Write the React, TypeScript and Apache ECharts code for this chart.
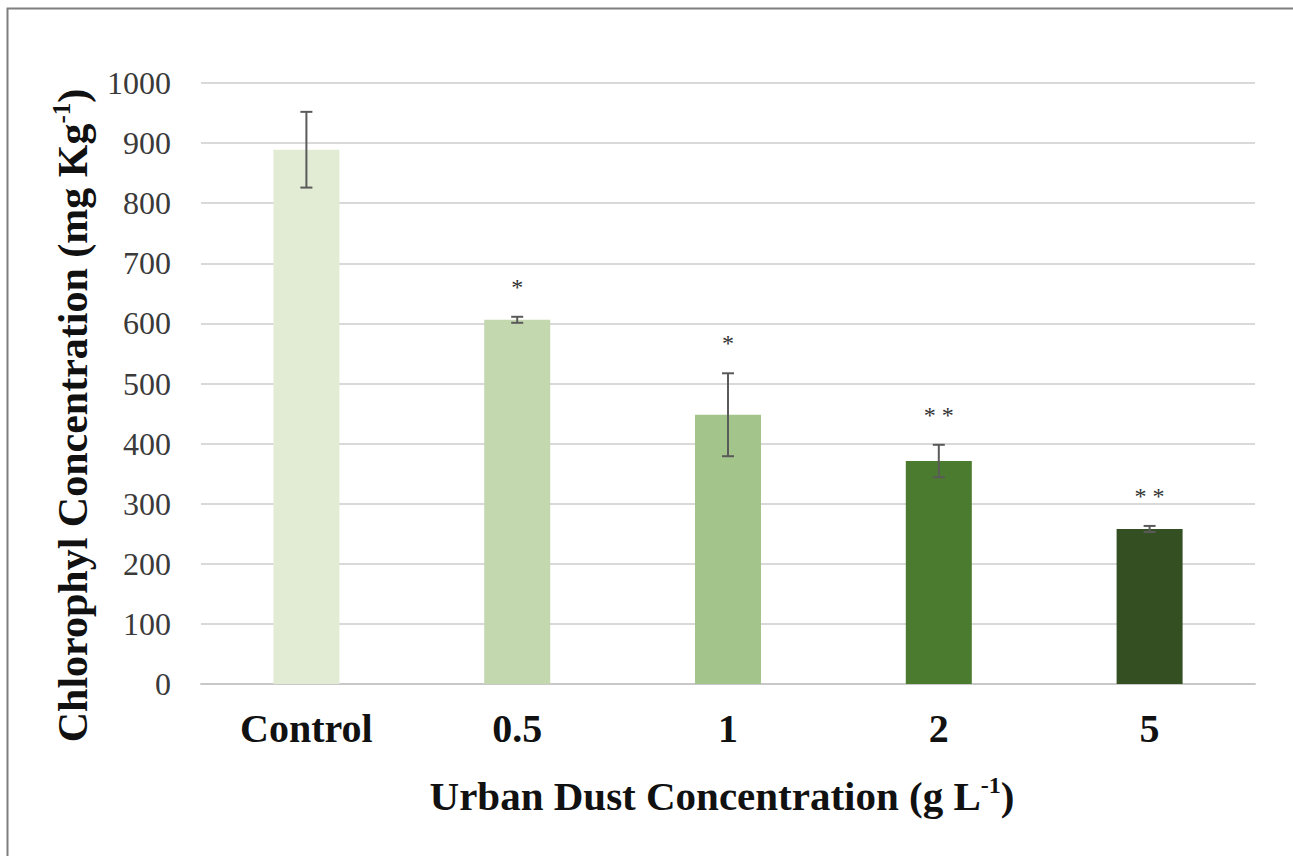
import React, { useEffect, useRef } from "react";
import * as echarts from "echarts";

const categories = ["Control", "0.5", "1", "2", "5"];
const means = [889, 606, 448, 371, 258];
const errors = [63, 5, 69, 27, 5];
const stars = ["", "*", "*", "**", "**"];
const barColors = ["#e2ebd4", "#c4d8b0", "#a3c48b", "#4b7b2f", "#344f22"];
const yTicks = { min: 0, max: 1000, interval: 100 };

export default function App() {
  const ref = useRef<HTMLDivElement>(null);
  useEffect(() => {
    if (!ref.current) return;
    const chart = echarts.init(ref.current, null, { renderer: "svg" });
    const serif = "Liberation Serif, DejaVu Serif, serif";
    chart.setOption({
      animation: false,
      backgroundColor: "#ffffff",
      grid: { left: 201, right: 38, top: 83, bottom: 172 },
      graphic: [
        {
          type: "polyline",
          silent: true,
          shape: { points: [[7.5, 900], [7.5, 8.5], [1400, 8.5]] },
          style: { stroke: "#7f7f7f", lineWidth: 2, fill: "none" },
        },
      ],
      xAxis: {
        type: "category",
        data: categories,
        axisTick: { show: false },
        axisLine: { lineStyle: { color: "#c8c8c8", width: 2 } },
        axisLabel: {
          margin: 24,
          fontFamily: serif,
          fontWeight: "bold",
          fontSize: 40,
          color: "#111111",
        },
        name: "{a|Urban Dust Concentration (g L}{b|-1}{a|)}{s| }",
        nameLocation: "middle",
        nameGap: 89,
        nameTextStyle: {
          rich: {
            a: { fontFamily: serif, fontWeight: "bold", fontSize: 41, color: "#111111", lineHeight: 46 },
            b: { fontFamily: serif, fontWeight: "bold", fontSize: 24, color: "#111111", verticalAlign: "top", lineHeight: 46 },
            s: { width: 12, fontSize: 41, lineHeight: 46 },
          },
        },
      },
      yAxis: {
        type: "value",
        min: yTicks.min,
        max: yTicks.max,
        interval: yTicks.interval,
        axisLine: { show: false },
        axisTick: { show: false },
        splitLine: { lineStyle: { color: "#d9d9d9", width: 2 } },
        axisLabel: {
          margin: 30,
          fontFamily: serif,
          fontSize: 32,
          color: "#3a3a3a",
          formatter: (v: number) => String(v),
        },
        name: "{a|Chlorophyl Concentration (mg Kg}{b|-1}{a|)}{s| }",
        nameLocation: "middle",
        nameGap: 104,
        nameTextStyle: {
          rich: {
            a: { fontFamily: serif, fontWeight: "bold", fontSize: 42, color: "#111111", lineHeight: 48 },
            b: { fontFamily: serif, fontWeight: "bold", fontSize: 25, color: "#111111", verticalAlign: "top", lineHeight: 48 },
            s: { width: 64, fontSize: 42, lineHeight: 48 },
          },
        },
      },
      series: [
        {
          type: "bar",
          barWidth: 66,
          data: means.map((v, i) => ({ value: v, itemStyle: { color: barColors[i] } })),
        },
        {
          type: "custom",
          data: means.map((v, i) => [i, v - errors[i], v + errors[i]]),
          z: 10,
          renderItem: (params: any, api: any) => {
            const i = params.dataIndex;
            const lo = api.coord([api.value(0), api.value(1)]);
            const hi = api.coord([api.value(0), api.value(2)]);
            const x = hi[0];
            const cap = 6;
            const style = { stroke: "#5a5a5a", lineWidth: 2 };
            const children: any[] = [
              { type: "line", shape: { x1: x, y1: hi[1], x2: x, y2: lo[1] }, style },
              { type: "line", shape: { x1: x - cap, y1: hi[1], x2: x + cap, y2: hi[1] }, style },
              { type: "line", shape: { x1: x - cap, y1: lo[1], x2: x + cap, y2: lo[1] }, style },
            ];
            if (stars[i]) {
              children.push({
                type: "text",
                style: {
                  text: stars[i].split("").join(" "),
                  x: x,
                  y: hi[1] - 30,
                  align: "center",
                  verticalAlign: "middle",
                  fontFamily: serif,
                  fontSize: 24,
                  fill: "#333333",
                },
              });
            }
            return { type: "group", children };
          },
        },
      ],
    });
    return () => chart.dispose();
  }, []);
  return (
    <div
      ref={ref}
      style={{ position: "absolute", left: 0, top: 0, width: 1293, height: 856 }}
    />
  );
}
